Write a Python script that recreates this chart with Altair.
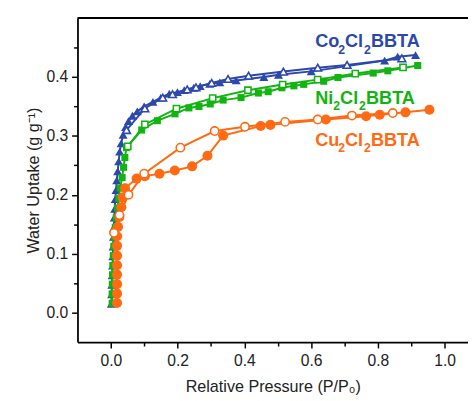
import altair as alt
import pandas as pd

# ---------------- data ----------------
co_ads_x = [0.0015, 0.0023, 0.0029, 0.0038, 0.005, 0.0059, 0.0067, 0.0079, 0.0088, 0.0103,
            0.0117, 0.0132, 0.0155, 0.0176, 0.0205, 0.0235, 0.0264, 0.0308, 0.0367, 0.044,
            0.0528, 0.0645, 0.0792, 0.0997, 0.1261, 0.1496, 0.1751, 0.1994, 0.2199, 0.2484,
            0.2677, 0.2962, 0.3264, 0.3754, 0.4584, 0.5023, 0.6003, 0.8202, 0.8592, 0.9129]
co_ads_y = [0.015, 0.0308, 0.0472, 0.0633, 0.08, 0.0955, 0.1122, 0.1288, 0.1445, 0.1612,
            0.1762, 0.1928, 0.2078, 0.2245, 0.24, 0.2567, 0.2733, 0.2872, 0.3017, 0.315,
            0.325, 0.3342, 0.3417, 0.35, 0.3578, 0.365, 0.3717, 0.3742, 0.3778, 0.3817,
            0.3845, 0.3883, 0.3908, 0.3942, 0.4, 0.4038, 0.4095, 0.4278, 0.4345, 0.4372]
co_des_x = [0.8719, 0.7076, 0.6197, 0.517, 0.4126, 0.351, 0.302, 0.2551, 0.2287, 0.1848,
            0.1554, 0.1018, 0.047]
co_des_y = [0.4317, 0.4205, 0.4158, 0.4092, 0.4022, 0.3967, 0.39, 0.3825, 0.3788, 0.3708,
            0.365, 0.3467, 0.31]

ni_ads_x = [0.0038, 0.0038, 0.0044, 0.005, 0.0059, 0.0073, 0.0088, 0.0109, 0.0132, 0.0161,
            0.0196, 0.0235, 0.0279, 0.0337, 0.0381, 0.0419, 0.0469, 0.0924, 0.1393, 0.1921,
            0.2337, 0.2639, 0.2977, 0.3364, 0.39, 0.4419, 0.4713, 0.5123, 0.5484, 0.5777,
            0.6378, 0.6804, 0.7859, 0.8299, 0.9194]
ni_ads_y = [0.0158, 0.0317, 0.0483, 0.0642, 0.08, 0.0967, 0.1125, 0.1283, 0.145, 0.1608,
            0.1775, 0.1942, 0.2117, 0.2292, 0.2467, 0.2633, 0.28, 0.31, 0.3258, 0.3375,
            0.3475, 0.35, 0.3542, 0.3608, 0.365, 0.3728, 0.375, 0.3817, 0.385, 0.3875,
            0.3928, 0.3992, 0.4067, 0.4105, 0.4195]
ni_des_x = [0.8754, 0.7323, 0.6196, 0.5147, 0.4106, 0.305, 0.1965, 0.1018, 0.0507]
ni_des_y = [0.4163, 0.4058, 0.3955, 0.3872, 0.3775, 0.3642, 0.3462, 0.3195, 0.2822]

cu_ads_x = [0.0185, 0.0185, 0.0185, 0.0185, 0.0185, 0.0185, 0.0185, 0.0187, 0.0214, 0.0255,
            0.0314, 0.0352, 0.0425, 0.0771, 0.1018, 0.1457, 0.1915, 0.2434, 0.2894, 0.3364,
            0.4487, 0.478, 0.6443, 0.7645, 0.8056, 0.8827, 0.9545]
cu_ads_y = [0.0162, 0.0322, 0.0483, 0.0645, 0.0805, 0.0967, 0.1133, 0.1295, 0.1455, 0.1622,
            0.1788, 0.1955, 0.2112, 0.2275, 0.2317, 0.2358, 0.2413, 0.2483, 0.2662, 0.3005,
            0.3167, 0.3187, 0.3278, 0.3333, 0.3358, 0.34, 0.3445]
cu_des_x = [0.8446, 0.7223, 0.6197, 0.522, 0.4018, 0.3109, 0.2082, 0.0997, 0.0528, 0.0258, 0.0094]
cu_des_y = [0.3388, 0.3345, 0.3278, 0.3238, 0.3155, 0.3083, 0.28, 0.2358, 0.2, 0.1655, 0.1355]

label_metal = ["Co", "Ni", "Cu"]
label_x = [0.612, 0.612, 0.612]
label_y = [0.451, 0.355, 0.283]

x_ticks = [0.0, 0.1, 0.2, 0.3, 0.4, 0.5, 0.6, 0.7, 0.8, 0.9, 1.0]
y_ticks = [0.0, 0.05, 0.1, 0.15, 0.2, 0.25, 0.3, 0.35, 0.4, 0.45]

# ---------------- style ----------------
BLUE = "#2C48AC"
GREEN = "#12B412"
ORANGE = "#FF6A12"
FONT = "Liberation Sans"

xscale = alt.Scale(domain=[-0.1, 1.07], nice=False, zero=False)
yscale = alt.Scale(domain=[-0.05, 0.5], nice=False, zero=False)

xaxis = alt.Axis(
    values=x_ticks,
    labelExpr="round(datum.value*10) % 2 == 0 ? format(datum.value, '.1f') : ''",
    tickSize={"condition": {"test": "round(datum.value*10) % 2 == 0", "value": 6}, "value": 4},
    labelPadding=5, titlePadding=11, grid=False,
)
yaxis = alt.Axis(
    values=y_ticks,
    labelExpr="round(datum.value*20) % 2 == 0 ? format(datum.value, '.1f') : ''",
    tickSize={"condition": {"test": "round(datum.value*20) % 2 == 0", "value": 6}, "value": 4},
    labelPadding=4, titlePadding=5, grid=False,
)

X = alt.X("x:Q", scale=xscale, axis=xaxis, title="Relative Pressure (P/P\u2080)")
Y = alt.Y("y:Q", scale=yscale, axis=yaxis, title="Water Uptake (g g\u207b\u00b9)")


def series(xs, ys, color, shape, size, filled):
    df = pd.DataFrame({"x": xs, "y": ys, "i": list(range(len(xs)))})
    base = alt.Chart(df).encode(x=X, y=Y, order=alt.Order("i:Q"))
    line = base.mark_line(color=color, strokeWidth=2)
    if filled:
        pts = base.mark_point(shape=shape, size=size, filled=True, color=color, opacity=1)
    else:
        pts = base.mark_point(shape=shape, size=size, filled=True, fill="white",
                              stroke=color, strokeWidth=1.6, opacity=1)
    return [line, pts]


layers = []
layers += series(co_ads_x, co_ads_y, BLUE, "triangle-up", 85, True)
layers += series(co_des_x, co_des_y, BLUE, "triangle-up", 62, False)
layers += series(ni_ads_x, ni_ads_y, GREEN, "square", 52, True)
layers += series(ni_des_x, ni_des_y, GREEN, "square", 40, False)
layers += series(cu_ads_x, cu_ads_y, ORANGE, "circle", 105, True)
layers += series(cu_des_x, cu_des_y, ORANGE, "circle", 72, False)

# top frame line
top = alt.Chart(pd.DataFrame({"y": [0.5]})).mark_rule(color="black", strokeWidth=2).encode(
    y=alt.Y("y:Q", scale=yscale, axis=yaxis, title="Water Uptake (g g\u207b\u00b9)"))
layers.append(top)

# series labels built from pieces (subscripts)
label_colors = [BLUE, GREEN, ORANGE]
piece_offsets = {
    "Co": [0, 23.5, 30.5, 50, 57],
    "Ni": [0, 18.5, 25.5, 44.8, 52],
    "Cu": [0, 23.5, 30.5, 50, 57],
}
for m, lx, ly, c in zip(label_metal, label_x, label_y, label_colors):
    texts = [m, "2", "Cl", "2", "BBTA"]
    offs = piece_offsets[m]
    for t, dx in zip(texts, offs):
        sub = t == "2"
        dfl = pd.DataFrame({"x": [lx], "y": [ly], "t": [t]})
        layers.append(
            alt.Chart(dfl).mark_text(
                align="left", baseline="alphabetic", dx=dx, dy=6.7 if sub else 0,
                font=FONT, fontWeight="bold", fontSize=12.5 if sub else 18.5, color=c,
            ).encode(x=X, y=Y, text="t:N")
        )

chart = alt.layer(*layers).properties(
    width=399, height=331,
    padding={"left": 71, "top": 6, "right": 0, "bottom": 60},
    autosize=alt.AutoSizeParams(type="none"),
).configure_view(strokeWidth=0).configure_axis(
    domainColor="black", domainWidth=1.8, tickColor="black", tickWidth=1.5,
    labelFont=FONT, labelFontSize=16, labelColor="#222222",
    titleFont=FONT, titleFontSize=16.5, titleFontWeight="normal", titleColor="#222222",
)

chart.save("out.html", embed_options={"renderer": "svg", "actions": False})
